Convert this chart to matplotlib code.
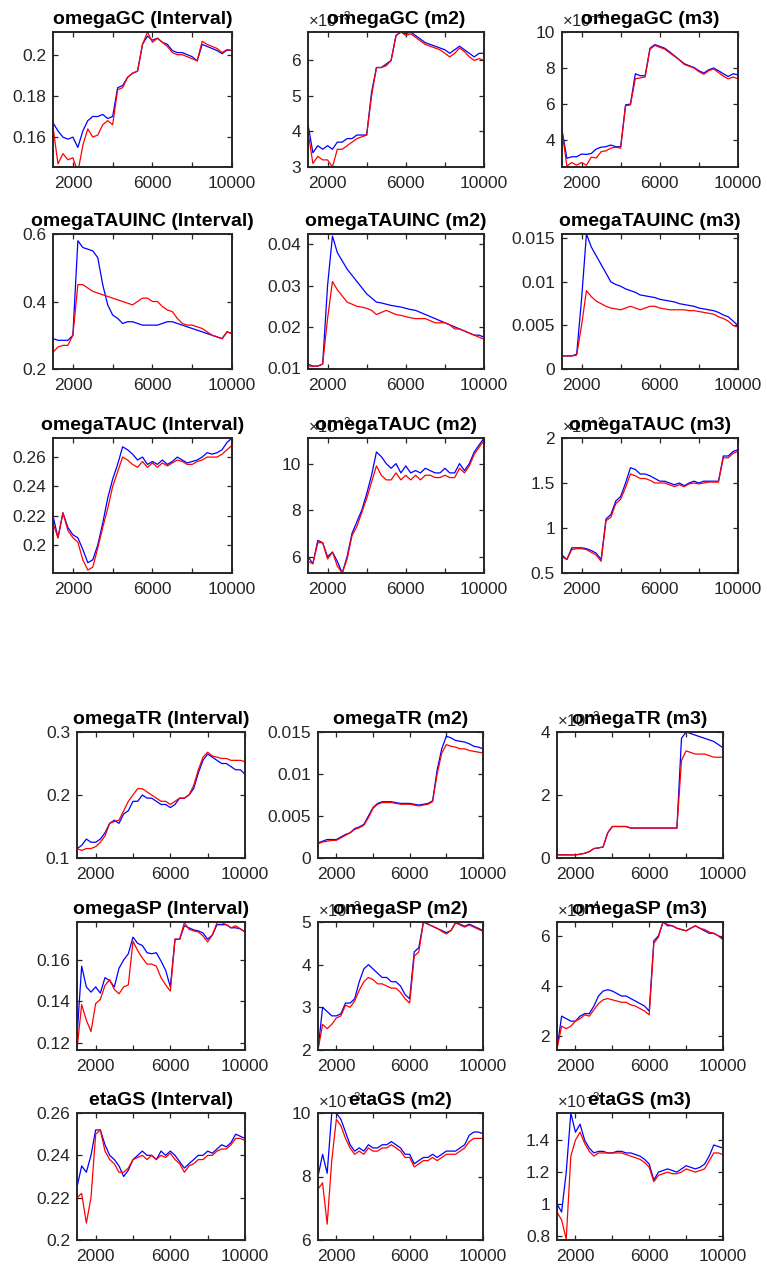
import matplotlib
matplotlib.use('Agg')
import matplotlib.pyplot as plt
from matplotlib.ticker import FuncFormatter

plt.rcParams['font.family'] = ['Liberation Sans', 'DejaVu Sans']
plt.rcParams['mathtext.fontset'] = 'custom'
plt.rcParams['mathtext.rm'] = 'Liberation Sans'
plt.rcParams['mathtext.it'] = 'Liberation Sans'

# common draw axis (number of draws)
draws = list(range(1000, 10001, 250))

# ---- omegaGC ----
gc_int_blue = [.167, .163, .160, .159, .160, .155, .163, .168, .170, .170, .171, .169, .170,
               .184, .185, .189, .191, .192, .205, .209, .207, .208, .206, .205, .202, .201,
               .201, .200, .199, .197, .205, .204, .203, .202, .2005, .2022, .202]
gc_int_red = [.165, .147, .152, .149, .150, .143, .156, .164, .160, .161, .166, .168, .166,
              .183, .184, .189, .191, .192, .205, .211, .206, .208, .206, .204, .201, .200,
              .200, .199, .198, .197, .2065, .205, .204, .203, .201, .2025, .202]
gc_m2_blue = [4.2, 3.4, 3.6, 3.5, 3.6, 3.5, 3.7, 3.7, 3.8, 3.8, 3.9, 3.9, 3.9, 5.1, 5.8, 5.8,
              5.9, 6.0, 6.7, 6.8, 6.75, 6.8, 6.7, 6.6, 6.5, 6.45, 6.4, 6.35, 6.3, 6.2, 6.3, 6.4,
              6.3, 6.2, 6.1, 6.2, 6.2]
gc_m2_red = [4.0, 3.1, 3.3, 3.2, 3.2, 3.0, 3.5, 3.5, 3.6, 3.7, 3.8, 3.85, 3.9, 5.0, 5.8, 5.8,
             5.85, 6.0, 6.7, 6.8, 6.7, 6.75, 6.65, 6.55, 6.45, 6.4, 6.35, 6.3, 6.2, 6.1, 6.2,
             6.35, 6.25, 6.1, 6.0, 6.05, 6.0]
gc_m3_blue = [4.56, 2.98, 3.07, 3.07, 3.22, 3.2, 3.25, 3.5, 3.6, 3.63, 3.72, 3.63, 3.63, 5.95,
              6.0, 7.68, 7.57, 7.57, 9.1, 9.3, 9.2, 9.1, 8.9, 8.68, 8.46, 8.24, 8.13, 8.03,
              7.85, 7.72, 7.9, 8.0, 7.85, 7.68, 7.53, 7.68, 7.62]
gc_m3_red = [4.5, 2.55, 2.75, 2.6, 2.75, 2.6, 3.05, 3.0, 3.35, 3.4, 3.55, 3.6, 3.55, 5.9, 5.95,
             7.4, 7.45, 7.5, 9.05, 9.25, 9.15, 9.05, 8.85, 8.65, 8.45, 8.2, 8.1, 8.0, 7.8,
             7.65, 7.85, 7.95, 7.75, 7.55, 7.4, 7.5, 7.4]

# ---- omegaTAUINC ----
tauinc_int_blue = [.29, .285, .285, .285, .30, .58, .56, .555, .55, .53, .45, .39, .36, .35,
                   .335, .34, .34, .335, .33, .33, .33, .33, .335, .34, .34, .335, .33, .325,
                   .32, .315, .31, .305, .30, .295, .29, .31, .305]
tauinc_int_red = [.25, .265, .27, .27, .30, .45, .45, .44, .43, .425, .42, .415, .41, .405,
                  .40, .395, .39, .40, .41, .41, .40, .40, .385, .375, .37, .35, .335, .33,
                  .33, .325, .32, .31, .30, .295, .29, .31, .305]
tauinc_m2_blue = [.011, .0105, .0105, .011, .030, .042, .038, .036, .034, .0325, .031, .0295,
                  .028, .027, .026, .0258, .0255, .0252, .025, .0248, .0245, .0242, .024,
                  .0235, .023, .0225, .022, .0215, .021, .0205, .020, .0195, .019, .0185,
                  .018, .018, .0175]
tauinc_m2_red = [.0105, .0105, .0105, .011, .022, .031, .029, .0275, .026, .0255, .025, .0248,
                 .0245, .024, .023, .0235, .024, .0235, .023, .0228, .0225, .0222, .022, .022,
                 .022, .0215, .021, .021, .021, .0205, .0195, .0195, .019, .0185, .018, .0175,
                 .017]
tauinc_m3_blue = [.0015, .0015, .0015, .0017, .008, .0155, .014, .013, .012, .011, .010,
                  .0097, .0095, .0092, .009, .0088, .0085, .0084, .0083, .0082, .008, .0079,
                  .0078, .0077, .0075, .0074, .0073, .0072, .007, .0069, .0068, .0067, .0065,
                  .0062, .006, .0055, .005]
tauinc_m3_red = [.0015, .0015, .0015, .0016, .005, .009, .0083, .0078, .0075, .0072, .007,
                 .0069, .0068, .0070, .0072, .0070, .0068, .0070, .0072, .0072, .0070, .0069,
                 .0068, .0068, .0068, .0068, .0067, .0067, .0066, .0065, .0064, .0063, .006,
                 .0058, .0055, .005, .0048]

# ---- omegaTAUC ----
tauc_int_blue = [.220, .205, .222, .212, .207, .205, .197, .188, .190, .200, .215, .232, .245,
                 .255, .267, .265, .262, .258, .260, .255, .257, .255, .258, .255, .257, .260,
                 .258, .256, .257, .258, .260, .263, .262, .263, .265, .270, .273]
tauc_int_red = [.215, .205, .222, .210, .205, .202, .190, .183, .185, .198, .212, .225, .240,
                .250, .260, .258, .255, .253, .257, .253, .256, .253, .256, .254, .256, .258,
                .257, .255, .255, .257, .258, .260, .260, .260, .262, .265, .268]
tauc_m2_blue = [6.0, 5.7, 6.7, 6.6, 6.0, 6.2, 5.8, 5.3, 6.0, 7.0, 7.5, 8.0, 8.7, 9.5, 10.5,
                10.3, 10.0, 9.8, 10.0, 9.6, 9.9, 9.6, 9.7, 9.6, 9.8, 9.7, 9.6, 9.6, 9.8, 9.6,
                9.6, 10.0, 9.7, 10.0, 10.5, 10.8, 11.1]
tauc_m2_red = [5.8, 5.7, 6.6, 6.6, 5.9, 6.2, 5.6, 5.3, 5.9, 6.9, 7.3, 7.9, 8.5, 9.2, 9.9, 9.5,
               9.3, 9.3, 9.6, 9.3, 9.5, 9.3, 9.5, 9.3, 9.5, 9.5, 9.4, 9.4, 9.5, 9.4, 9.4, 9.8,
               9.6, 9.9, 10.4, 10.7, 11.0]
tauc_m3_blue = [.70, .65, .78, .78, .78, .77, .75, .72, .65, 1.10, 1.15, 1.30, 1.35, 1.50,
                1.67, 1.65, 1.60, 1.60, 1.58, 1.55, 1.52, 1.52, 1.50, 1.48, 1.50, 1.47, 1.50,
                1.52, 1.50, 1.52, 1.52, 1.52, 1.52, 1.80, 1.80, 1.85, 1.87]
tauc_m3_red = [.68, .65, .76, .77, .77, .76, .73, .70, .63, 1.08, 1.12, 1.27, 1.32, 1.45,
               1.60, 1.58, 1.55, 1.55, 1.53, 1.50, 1.50, 1.50, 1.48, 1.46, 1.48, 1.46, 1.49,
               1.50, 1.49, 1.50, 1.51, 1.51, 1.51, 1.78, 1.78, 1.83, 1.85]

# ---- omegaTR ----
tr_int_blue = [.115, .120, .130, .125, .125, .130, .140, .155, .160, .155, .170, .175, .190,
               .190, .200, .195, .195, .190, .185, .185, .180, .185, .195, .195, .200, .210,
               .235, .255, .265, .260, .255, .250, .250, .245, .240, .240, .233]
tr_int_red = [.115, .112, .115, .115, .118, .125, .135, .155, .158, .160, .175, .190, .200,
              .210, .210, .205, .200, .195, .190, .190, .185, .190, .195, .195, .200, .215,
              .240, .260, .268, .262, .260, .258, .258, .255, .255, .255, .253]
tr_m2_blue = [.0018, .002, .0022, .0022, .0022, .0025, .0028, .003, .0035, .0037, .004, .005,
              .006, .0065, .0067, .0067, .0067, .0066, .0065, .0065, .0065, .0064, .0063,
              .0064, .0065, .0068, .0105, .013, .0145, .0143, .014, .0139, .0138, .0136,
              .0133, .0132, .013]
tr_m2_red = [.0017, .0019, .002, .0021, .0021, .0024, .0027, .003, .0034, .0036, .0039, .0048,
             .0059, .0064, .0066, .0066, .0066, .0065, .0064, .0064, .0064, .0063, .0062,
             .0063, .0064, .0067, .010, .0125, .0135, .0133, .0132, .013, .013, .0128, .0127,
             .0126, .0125]
tr_m3_blue = [.10, .10, .10, .10, .10, .12, .15, .20, .30, .32, .35, .80, 1.0, 1.0, 1.0, 1.0,
              .95, .95, .95, .95, .95, .95, .95, .95, .95, .95, .95, 3.8, 4.0, 3.95, 3.9,
              3.85, 3.8, 3.75, 3.7, 3.6, 3.5]
tr_m3_red = [.10, .10, .10, .10, .10, .12, .15, .20, .30, .32, .35, .80, 1.0, 1.0, 1.0, 1.0,
             .95, .95, .95, .95, .95, .95, .95, .95, .95, .95, .95, 3.1, 3.4, 3.35, 3.3, 3.3,
             3.3, 3.25, 3.2, 3.2, 3.2]

# ---- omegaSP ----
sp_int_blue = [.123, .157, .147, .1445, .147, .144, .1515, .150, .147, .156, .160, .163, .171,
               .168, .167, .1635, .163, .1635, .1595, .155, .147, .170, .170, .1765, .1755,
               .1745, .174, .173, .170, .172, .177, .177, .177, .1755, .1755, .175, .1735]
sp_int_red = [.117, .1385, .131, .1255, .139, .141, .1477, .1505, .1458, .1437, .147, .148,
              .169, .1645, .161, .158, .158, .157, .1515, .148, .145, .170, .170, .178, .1748,
              .174, .1735, .1716, .1687, .172, .178, .178, .177, .1755, .1765, .175, .1735]
sp_m2_blue = [2.0, 3.0, 2.9, 2.8, 2.8, 2.85, 3.1, 3.1, 3.2, 3.6, 3.9, 4.0, 3.9, 3.8, 3.7, 3.7,
              3.6, 3.6, 3.5, 3.3, 3.2, 4.3, 4.4, 5.0, 4.95, 4.9, 4.85, 4.8, 4.75, 4.8, 4.98,
              4.95, 4.9, 4.95, 4.9, 4.85, 4.8]
sp_m2_red = [2.0, 2.6, 2.5, 2.6, 2.75, 2.8, 3.05, 3.0, 3.15, 3.4, 3.6, 3.7, 3.65, 3.55, 3.55,
             3.5, 3.45, 3.45, 3.35, 3.2, 3.1, 4.2, 4.3, 5.0, 4.95, 4.9, 4.85, 4.78, 4.72, 4.8,
             4.98, 4.93, 4.88, 4.93, 4.88, 4.83, 4.78]
sp_m3_blue = [1.5, 2.8, 2.7, 2.6, 2.6, 2.8, 2.9, 2.9, 3.2, 3.6, 3.8, 3.85, 3.8, 3.7, 3.6, 3.6,
              3.5, 3.4, 3.3, 3.2, 3.0, 5.8, 6.0, 6.55, 6.4, 6.4, 6.3, 6.25, 6.2, 6.3, 6.4,
              6.3, 6.2, 6.1, 6.1, 6.0, 5.85]
sp_m3_red = [1.5, 2.4, 2.3, 2.4, 2.6, 2.7, 2.85, 2.8, 3.05, 3.3, 3.45, 3.5, 3.45, 3.4, 3.35,
             3.35, 3.25, 3.2, 3.1, 3.0, 2.85, 5.7, 5.95, 6.55, 6.45, 6.4, 6.3, 6.25, 6.2, 6.3,
             6.4, 6.3, 6.25, 6.15, 6.1, 6.0, 5.9]

# ---- etaGS ----
gs_int_blue = [.225, .235, .232, .240, .252, .252, .245, .240, .238, .235, .230, .233, .238,
               .240, .242, .240, .240, .238, .242, .240, .242, .240, .237, .234, .236, .238,
               .240, .240, .242, .241, .243, .245, .244, .246, .250, .249, .248]
gs_int_red = [.220, .222, .208, .220, .250, .252, .242, .238, .236, .232, .232, .234, .238,
              .239, .240, .238, .240, .238, .240, .239, .241, .238, .236, .232, .235, .236,
              .238, .238, .240, .240, .242, .243, .243, .245, .248, .248, .247]
gs_m2_blue = [8.0, 8.7, 8.1, 10.0, 10.0, 9.8, 9.4, 9.0, 8.8, 8.9, 8.8, 9.0, 8.9, 8.9, 9.0, 9.0,
              9.1, 9.0, 8.9, 8.7, 8.7, 8.4, 8.5, 8.6, 8.6, 8.7, 8.6, 8.7, 8.8, 8.8, 8.8, 8.9,
              9.0, 9.3, 9.4, 9.4, 9.35]
gs_m2_red = [7.6, 7.8, 6.5, 8.5, 9.8, 9.6, 9.2, 8.9, 8.7, 8.8, 8.7, 8.9, 8.8, 8.8, 8.9, 8.9,
             9.0, 8.9, 8.8, 8.6, 8.6, 8.3, 8.4, 8.5, 8.5, 8.6, 8.5, 8.6, 8.7, 8.7, 8.7, 8.8,
             8.9, 9.1, 9.2, 9.2, 9.2]
gs_m3_blue = [1.0, .95, 1.2, 1.57, 1.45, 1.5, 1.4, 1.35, 1.32, 1.33, 1.33, 1.32, 1.32, 1.33,
              1.33, 1.32, 1.32, 1.31, 1.30, 1.28, 1.25, 1.15, 1.20, 1.21, 1.22, 1.21, 1.20,
              1.22, 1.24, 1.23, 1.22, 1.23, 1.25, 1.30, 1.37, 1.36, 1.35]
gs_m3_red = [.95, .90, .78, 1.30, 1.40, 1.45, 1.38, 1.33, 1.30, 1.32, 1.32, 1.32, 1.32, 1.32,
             1.32, 1.31, 1.30, 1.29, 1.28, 1.26, 1.23, 1.14, 1.18, 1.19, 1.20, 1.19, 1.19,
             1.20, 1.22, 1.21, 1.20, 1.21, 1.22, 1.27, 1.32, 1.32, 1.31]

# panel list: title, blue, red, exponent, ylim (scaled), yticks (scaled)
panels = [
    ('omegaGC (Interval)', gc_int_blue, gc_int_red, 0, (0.1455, 0.211), [0.16, 0.18, 0.2]),
    ('omegaGC (m2)', gc_m2_blue, gc_m2_red, -3, (3, 6.8), [3, 4, 5, 6]),
    ('omegaGC (m3)', gc_m3_blue, gc_m3_red, -4, (2.5, 10), [4, 6, 8, 10]),
    ('omegaTAUINC (Interval)', tauinc_int_blue, tauinc_int_red, 0, (0.2, 0.6), [0.2, 0.4, 0.6]),
    ('omegaTAUINC (m2)', tauinc_m2_blue, tauinc_m2_red, 0, (0.0098, 0.0425),
     [0.01, 0.02, 0.03, 0.04]),
    ('omegaTAUINC (m3)', tauinc_m3_blue, tauinc_m3_red, 0, (0, 0.0155), [0, 0.005, 0.01, 0.015]),
    ('omegaTAUC (Interval)', tauc_int_blue, tauc_int_red, 0, (0.181, 0.273),
     [0.2, 0.22, 0.24, 0.26]),
    ('omegaTAUC (m2)', tauc_m2_blue, tauc_m2_red, -3, (5.3, 11.1), [6, 8, 10]),
    ('omegaTAUC (m3)', tauc_m3_blue, tauc_m3_red, -3, (0.5, 2), [0.5, 1, 1.5, 2]),
    ('omegaTR (Interval)', tr_int_blue, tr_int_red, 0, (0.1, 0.3), [0.1, 0.2, 0.3]),
    ('omegaTR (m2)', tr_m2_blue, tr_m2_red, 0, (0, 0.015), [0, 0.005, 0.01, 0.015]),
    ('omegaTR (m3)', tr_m3_blue, tr_m3_red, -3, (0, 4), [0, 2, 4]),
    ('omegaSP (Interval)', sp_int_blue, sp_int_red, 0, (0.1166, 0.1783), [0.12, 0.14, 0.16]),
    ('omegaSP (m2)', sp_m2_blue, sp_m2_red, -3, (2, 5), [2, 3, 4, 5]),
    ('omegaSP (m3)', sp_m3_blue, sp_m3_red, -4, (1.45, 6.55), [2, 4, 6]),
    ('etaGS (Interval)', gs_int_blue, gs_int_red, 0, (0.2, 0.26), [0.2, 0.22, 0.24, 0.26]),
    ('etaGS (m2)', gs_m2_blue, gs_m2_red, -3, (6, 10), [6, 8, 10]),
    ('etaGS (m3)', gs_m3_blue, gs_m3_red, -3, (0.775, 1.57), [0.8, 1, 1.2, 1.4]),
]

# axes boxes in pixels (left, right) and (top, bottom); two 3x3 blocks
W, H = 767, 1272
cols_top = [(53, 232), (308, 484), (562, 738)]
rows_top = [(32, 167), (234, 369), (438, 573)]
cols_bot = [(77, 245), (318, 483), (557, 723)]
rows_bot = [(732, 858), (922, 1050), (1113, 1240)]

boxes = []
for rows, cols in ((rows_top, cols_top), (rows_bot, cols_bot)):
    for (t, b) in rows:
        for (l, r) in cols:
            boxes.append((l, r, t, b))

fig = plt.figure(figsize=(W / 100, H / 100), dpi=100)
txt = '#262626'

for (title, blue, red, e, ylim, yt), (l, r, t, b) in zip(panels, boxes):
    ax = fig.add_axes([l / W, 1 - b / H, (r - l) / W, (b - t) / H])
    s = 10.0 ** e
    ax.plot(draws, [v * s for v in blue], color=(0, 0, 1), lw=0.9)
    ax.plot(draws, [v * s for v in red], color=(1, 0, 0), lw=0.9)
    ax.set_xlim(1000, 10000)
    ax.set_ylim(ylim[0] * s, ylim[1] * s)
    ax.set_xticks([2000, 4000, 6000, 8000, 10000])
    ax.set_xticklabels(['2000', '', '6000', '', '10000'])
    ax.set_yticks([v * s for v in yt])
    ax.yaxis.set_major_formatter(FuncFormatter(lambda v, p, s=s: '%g' % round(v / s, 6)))
    ax.tick_params(direction='in', top=True, right=True, length=3.5, width=0.9,
                   labelsize=12.5, colors=txt, pad=5)
    ax.tick_params(axis='x', pad=6.5)
    for sp in ax.spines.values():
        sp.set_linewidth(1.4)
        sp.set_color('#262626')
    if e != 0:
        ax.text(0.0, 1.02, r'$\times10^{%d}$' % e, transform=ax.transAxes,
                ha='left', va='bottom', fontsize=12, color=txt)
    ax.set_title(title, fontsize=14, fontweight='bold', pad=6)

fig.savefig('out.png', dpi=100)
